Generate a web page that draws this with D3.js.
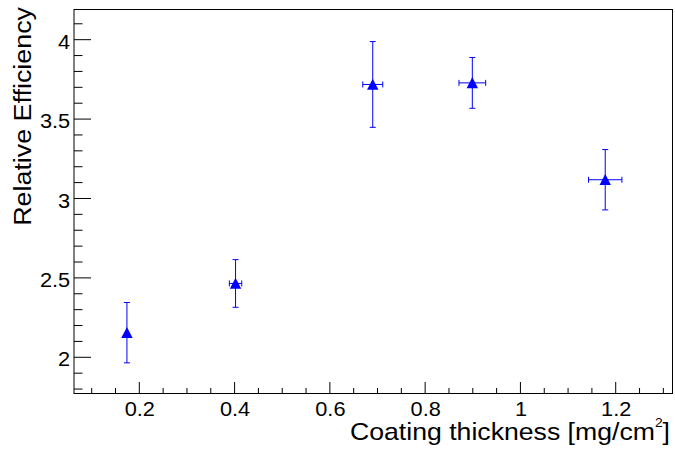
<!DOCTYPE html>
<html>
<head>
  <meta charset="utf-8">
  <script src="https://cdn.jsdelivr.net/npm/d3@7"></script>
  <style>
    body {margin:0; background:#fff;}
    svg {font-family: "Liberation Sans", Arial, Helvetica, sans-serif;}
    .tick text {fill:#000;}
  </style>
</head>
<body>
<script>
// measured points
const thickness    = [0.174, 0.402, 0.690, 0.899, 1.178];
const thicknessErr = [0,     0.013, 0.021, 0.028, 0.035];
const efficiency   = [2.155, 2.465, 3.718, 3.728, 3.118];
const efficiencyErr= [0.19,  0.15,  0.27,  0.16,  0.19];

const xTicks = [0.2, 0.4, 0.6, 0.8, 1, 1.2];
const yTicks = [2, 2.5, 3, 3.5, 4];

const width = 675, height = 449;
const frame = {left: 74, right: 672.5, top: 9.5, bottom: 393.5};
// ROOT's helvetica comes out a bit wider than Liberation Sans
const stretch = 1.11;

const svg = d3.select("body").append("svg")
  .attr("width", width)
  .attr("height", height);

const x = d3.scaleLinear().domain([0.0629, 1.3192]).range([frame.left, frame.right]);
const y = d3.scaleLinear().domain([1.772, 4.190]).range([frame.bottom, frame.top]);

// minor ticks, ROOT style
const xMinor = d3.range(0.05, 1.35, 0.05).filter(v => x(v) > frame.left + 0.5 && x(v) < frame.right - 0.5);
const yMinor = d3.range(1.7, 4.25, 0.1).filter(v => y(v) < frame.bottom - 0.5 && y(v) > frame.top + 0.5);

const ticks = svg.append("g").attr("stroke", "#000").attr("stroke-width", 1);
ticks.selectAll(".xm").data(xMinor).join("line")
  .attr("x1", d => x(d)).attr("x2", d => x(d))
  .attr("y1", frame.bottom).attr("y2", d => frame.bottom - (xTicks.some(t => Math.abs(t - d) < 1e-6) ? 11.5 : 5.5));
ticks.selectAll(".ym").data(yMinor).join("line")
  .attr("y1", d => y(d)).attr("y2", d => y(d))
  .attr("x1", frame.left).attr("x2", d => frame.left + (yTicks.some(t => Math.abs(t - d) < 1e-6) ? 17 : 8.5));

// frame
svg.append("rect")
  .attr("x", frame.left).attr("y", frame.top)
  .attr("width", frame.right - frame.left).attr("height", frame.bottom - frame.top)
  .attr("fill", "none").attr("stroke", "#000").attr("stroke-width", 1);

// tick labels through d3 axes (lines hidden, ROOT draws them above)
const xAxis = svg.append("g")
  .attr("transform", `translate(0,${frame.bottom})`)
  .call(d3.axisBottom(x).tickValues(xTicks).tickSize(0).tickPadding(0).tickFormat(d3.format("~g")));
xAxis.select(".domain").remove();
xAxis.selectAll("text")
  .attr("dy", null).attr("y", 22.2)
  .attr("transform", `scale(${stretch},1)`)
  .attr("font-size", 19.6).attr("font-family", null);

const yAxis = svg.append("g")
  .attr("transform", `translate(${frame.left},0)`)
  .call(d3.axisLeft(y).tickValues(yTicks).tickSize(0).tickPadding(0).tickFormat(d3.format("~g")));
yAxis.select(".domain").remove();
yAxis.selectAll("text")
  .attr("dy", null).attr("y", 8.6).attr("x", -3.8 / stretch)
  .attr("transform", `scale(${stretch},1)`)
  .attr("font-size", 19.6).attr("font-family", null);

// axis titles
const xt = svg.append("text")
  .attr("transform", `translate(670,440) scale(${stretch},1)`)
  .attr("text-anchor", "end")
  .attr("font-size", 24);
xt.append("tspan").text("Coating thickness [mg/cm");
xt.append("tspan").attr("font-size", 12.5).attr("dy", -13.5).text("2");
xt.append("tspan").attr("dy", 13.5).text("]");

svg.append("text")
  .attr("transform", `translate(31,7) rotate(-90) scale(${stretch},1)`)
  .attr("text-anchor", "end")
  .attr("font-size", 24.2)
  .text("Relative Efficiency");

// points with error bars
const pts = thickness.map((t, i) => ({x: t, ex: thicknessErr[i], y: efficiency[i], ey: efficiencyErr[i]}));
const blue = "#0000ff";
const cap = 3;
const g = svg.append("g").attr("stroke", blue).attr("stroke-width", 1).attr("fill", "none");
pts.forEach(p => {
  const cx = x(p.x), cy = y(p.y);
  // vertical
  g.append("line").attr("x1", cx).attr("x2", cx).attr("y1", y(p.y + p.ey)).attr("y2", y(p.y - p.ey));
  g.append("line").attr("x1", cx - cap).attr("x2", cx + cap).attr("y1", y(p.y + p.ey)).attr("y2", y(p.y + p.ey));
  g.append("line").attr("x1", cx - cap).attr("x2", cx + cap).attr("y1", y(p.y - p.ey)).attr("y2", y(p.y - p.ey));
  if (p.ex > 0) {
    g.append("line").attr("y1", cy).attr("y2", cy).attr("x1", x(p.x - p.ex)).attr("x2", x(p.x + p.ex));
    g.append("line").attr("y1", cy - cap).attr("y2", cy + cap).attr("x1", x(p.x - p.ex)).attr("x2", x(p.x - p.ex));
    g.append("line").attr("y1", cy - cap).attr("y2", cy + cap).attr("x1", x(p.x + p.ex)).attr("x2", x(p.x + p.ex));
  }
});

svg.append("g").selectAll("path").data(pts).join("path")
  .attr("transform", d => `translate(${x(d.x)},${y(d.y)})`)
  .attr("d", "M0,-5.8L5.7,5.3L-5.7,5.3Z")
  .attr("fill", blue);
</script>
</body>
</html>
